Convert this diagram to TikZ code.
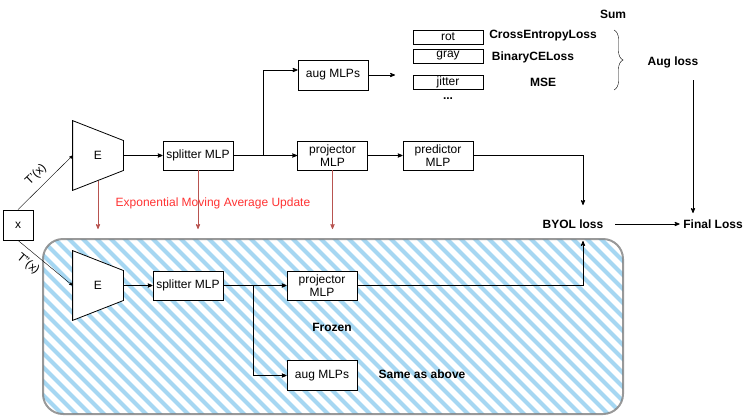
\documentclass[tikz,border=0pt]{standalone}
\usepackage{fontspec}
\setmainfont{Liberation Sans}
\usetikzlibrary{arrows,calc,decorations.pathreplacing}

\definecolor{stripe}{HTML}{A6D7F2}
\definecolor{emared}{HTML}{B85450}
\definecolor{ematext}{HTML}{FF3333}

\begin{document}
\begin{tikzpicture}[x=1pt,y=-1pt,>=stealth',thick,
  font=\fontsize{12}{13}\selectfont,
  block/.style={rectangle,draw,fill=white,minimum width=70pt,minimum height=29pt,align=center,inner sep=1pt},
  augbox/.style={rectangle,draw,fill=white,minimum width=70pt,minimum height=14pt,inner sep=0pt,thin},
  enc/.style={rectangle,minimum width=50pt,minimum height=69pt,inner sep=0pt},
  lbl/.style={font=\fontsize{12}{13}\selectfont\bfseries},
  ema/.style={->,color=emared}]

  \useasboundingbox (0,0) rectangle (754,416);

  % frozen target branch
  \begin{scope}
    \clip[rounded corners=20pt] (43,239) rectangle (623,414);
    \foreach \c in {-150,-136,...,630}
      \draw[stripe,line width=4pt] (\c,230) -- ({\c+200},430);
  \end{scope}
  \draw[gray,line width=2pt,opacity=0.8,rounded corners=20pt] (43,239) rectangle (623,414);

  \node[rectangle,draw,fill=white,minimum width=30pt,minimum height=30pt] (x) at (18,225) {x};

  % encoders
  \node[enc] (eTop) at (98,155.5) {};
  \node[enc] (eBot) at (98,285.5) {};
  \foreach \e in {eTop,eBot}
    \draw[fill=white] (\e.north west) -- ($(\e.east)+(0,-15)$) -- ($(\e.east)+(0,15)$)
      -- (\e.south west) -- cycle;
  \node at (eTop) {E};
  \node at (eBot) {E};

  % online branch
  \node[block] (splitTop) at (198,155.5) {splitter MLP};
  \node[block,minimum height=30pt] (augTop) at (333,75) {aug MLPs};
  \node[block] (projTop) at (332.5,155.5) {projector\\MLP};
  \node[block] (predTop) at (438,155.5) {predictor\\MLP};

  \node[augbox] (rot) at (448,37) {rot};
  \node[augbox] (gray) at (448,56) {gray};
  \node[augbox] (jitter) at (448,82) {jitter};
  \node[lbl] (dots) at (448,99) {...};
  \node[lbl] (ceLoss) at (543,36) {CrossEntropyLoss};
  \node[lbl] (bceLoss) at (533,57) {BinaryCELoss};
  \node[lbl] (mse) at (543,82) {MSE};
  \node[lbl] (sum) at (613,14) {Sum};
  \node[lbl] (augLoss) at (673,62) {Aug loss};

  \node[lbl] (byol) at (573,224) {BYOL loss};
  \node[lbl] (final) at (713,224) {Final Loss};

  % target branch
  \node[block] (splitBot) at (188,285.5) {splitter MLP};
  \node[block] (projBot) at (322,285.5) {projector\\MLP};
  \node[block,minimum height=30pt] (augBot) at (322,375.5) {aug MLPs};
  \node[lbl] (frozen) at (332,327) {Frozen};
  \node[lbl] (same) at (422,374) {Same as above};

  \node[ematext] (emaLbl) at (213,203) {Exponential Moving Average Update};

  \node[rotate=44] (tOne) at (36,175) {T'(x)};
  \node[rotate=-40] (tTwo) at (28,264) {T''(x)};

  \coordinate (brTop) at (263.5,155.5);
  \coordinate (brBot) at (253.5,285.5);
  \coordinate (augEnd) at (395,75);
  \coordinate (byolIn) at (583,205);
  \coordinate (byolUp) at (583,241);
  \coordinate (augDrop) at (693,80);
  \coordinate (finalIn) at (693,213);
  \coordinate (eTopBot) at (98,180.5);
  \coordinate (emaE) at (98,229);
  \coordinate (emaS) at (198,229);
  \coordinate (emaP) at (332.5,229);

  \draw[decoration={brace,amplitude=9pt},thin,decorate]
    (614,30) -- (614,90);

  \path[->]
    (x.north) edge[thin] (eTop.west)
    (x.south) edge[thin] (eBot.west)
    (eTop.east) edge (splitTop.west)
    (splitTop.east) edge (projTop.west)
    (projTop.east) edge (predTop.west)
    (augTop.east) edge (augEnd)
    (byol.east) edge[shorten <=8pt] (final.west)
    (augDrop) edge (finalIn)
    (eBot.east) edge (splitBot.west)
    (splitBot.east) edge (projBot.west);
  \draw[->] (brTop) |- ([yshift=5pt]augTop.west);
  \draw[->] (predTop.east) -| (byolIn);
  \draw[->] (projBot.east) -| (byolUp);
  \draw[->] (brBot) |- (augBot.west);

  \draw[ema] (eTopBot) -- (emaE);
  \draw[ema] (splitTop.south) -- (emaS);
  \draw[ema] (projTop.south) -- (emaP);
\end{tikzpicture}
\end{document}
